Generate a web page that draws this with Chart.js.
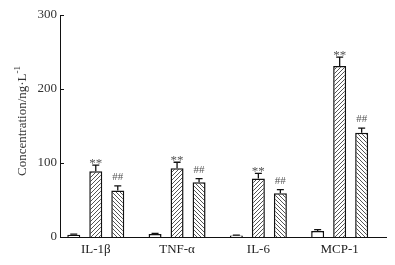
<!DOCTYPE html>
<html>
<head>
    <title>Cytokine concentration</title>
    <script src="https://cdn.jsdelivr.net/npm/chart.js@4.4.0/dist/chart.umd.min.js"></script>
    <style>
        html, body { margin: 0; padding: 0; background: #fff; }
        #wrap { width: 395px; height: 265px; }
    </style>
</head>
<body>
    <div id="wrap"><canvas id="chart" width="395" height="265"></canvas></div>

    <script>
        // data
        const categories = ['IL-1β', 'TNF-α', 'IL-6', 'MCP-1'];
        const controlVals = [3, 4, 2, 8];
        const controlErr = [1, 1, 0.5, 2];
        const modelVals = [89, 93, 79, 231];
        const modelErr = [8, 8, 7, 12];
        const treatVals = [63, 74, 59, 141];
        const treatErr = [6, 5, 5, 6];
        const marks = ['', '**', '##'];
        const yTicks = [0, 100, 200, 300];

        const serif = "'Liberation Serif', 'Times New Roman', serif";

        function hatch(dir) {
            const c = document.createElement('canvas');
            c.width = 4; c.height = 4;
            const g = c.getContext('2d');
            g.fillStyle = '#fff';
            g.fillRect(0, 0, 4, 4);
            g.strokeStyle = '#555';
            g.lineWidth = 1;
            g.beginPath();
            if (dir === '/') {
                g.moveTo(-1, 5); g.lineTo(5, -1);
                g.moveTo(-3, 3); g.lineTo(3, -3);
                g.moveTo(1, 7); g.lineTo(7, 1);
            } else {
                g.moveTo(-1, -1); g.lineTo(5, 5);
                g.moveTo(-3, 1); g.lineTo(3, 7);
                g.moveTo(1, -3); g.lineTo(7, 3);
            }
            g.stroke();
            return g.createPattern(c, 'repeat');
        }

        const toPoints = vals => vals.map((v, i) => ({ x: i, y: v }));
        const errs = [controlErr, modelErr, treatErr];

        // error bars and significance marks
        const errorPlugin = {
            id: 'errorBars',
            afterDatasetsDraw(chart) {
                const ctx = chart.ctx;
                const y = chart.scales.y;
                chart.data.datasets.forEach((ds, d) => {
                    const meta = chart.getDatasetMeta(d);
                    meta.data.forEach((bar, i) => {
                        const top = y.getPixelForValue(ds.data[i].y + errs[d][i]);
                        ctx.save();
                        ctx.strokeStyle = '#111';
                        ctx.lineWidth = 1.3;
                        ctx.beginPath();
                        ctx.moveTo(bar.x, bar.y);
                        ctx.lineTo(bar.x, top);
                        ctx.moveTo(bar.x - 3.5, top);
                        ctx.lineTo(bar.x + 3.5, top);
                        ctx.stroke();
                        if (marks[d]) {
                            ctx.fillStyle = '#555';
                            ctx.textAlign = 'center';
                            ctx.textBaseline = 'alphabetic';
                            if (marks[d] === '**') {
                                ctx.font = '13px ' + serif;
                                ctx.fillText(marks[d], bar.x, top + 2);
                            } else {
                                ctx.font = '11px ' + serif;
                                ctx.fillText(marks[d], bar.x, top - 6);
                            }
                        }
                        ctx.restore();
                    });
                });
            }
        };

        // inward tick marks and y title with superscript
        const axisPlugin = {
            id: 'axisExtras',
            afterDraw(chart) {
                const ctx = chart.ctx;
                const y = chart.scales.y;
                const left = chart.chartArea.left;
                ctx.save();
                ctx.strokeStyle = '#111';
                ctx.lineWidth = 1;
                ctx.beginPath();
                yTicks.forEach(v => {
                    const py = Math.round(y.getPixelForValue(v)) + 0.5;
                    ctx.moveTo(left, py);
                    ctx.lineTo(left + 4, py);
                });
                ctx.stroke();

                ctx.translate(23, 121);
                ctx.rotate(-Math.PI / 2);
                ctx.fillStyle = '#333';
                ctx.textBaseline = 'middle';
                const main = 'Concentration/ng·L';
                ctx.font = '13px ' + serif;
                const w1 = ctx.measureText(main).width;
                ctx.font = '9px ' + serif;
                const w2 = ctx.measureText('-1').width;
                const start = -(w1 + w2) / 2;
                ctx.font = '13px ' + serif;
                ctx.textAlign = 'left';
                ctx.fillText(main, start, 0);
                ctx.font = '9px ' + serif;
                ctx.fillText('-1', start + w1, -5);
                ctx.restore();
            }
        };

        const chart = new Chart(document.getElementById('chart'), {
            type: 'bar',
            data: {
                datasets: [
                    {
                        label: 'Control',
                        data: toPoints(controlVals),
                        backgroundColor: '#fff',
                        borderColor: '#111',
                        borderWidth: 1.5
                    },
                    {
                        label: 'Model',
                        data: toPoints(modelVals),
                        backgroundColor: hatch('/'),
                        borderColor: '#111',
                        borderWidth: 1.5
                    },
                    {
                        label: 'Treatment',
                        data: toPoints(treatVals),
                        backgroundColor: hatch('\\'),
                        borderColor: '#111',
                        borderWidth: 1.5
                    }
                ]
            },
            options: {
                responsive: false,
                animation: false,
                layout: { padding: { top: 15, right: 9, left: 0, bottom: 0 } },
                categoryPercentage: 0.812,
                barPercentage: 0.59,
                plugins: {
                    legend: { display: false },
                    tooltip: { enabled: false }
                },
                scales: {
                    x: {
                        type: 'linear',
                        min: -0.44,
                        max: 3.57,
                        offset: false,
                        afterBuildTicks: s => { s.ticks = categories.map((c, i) => ({ value: i })); },
                        afterFit: s => { s.height = 28; },
                        grid: { display: false, drawTicks: false, offset: false },
                        border: { display: true, color: '#111', width: 1 },
                        ticks: {
                            autoSkip: false,
                            maxRotation: 0,
                            padding: 5,
                            color: '#222',
                            font: { family: serif, size: 13 },
                            callback: v => categories[v] ?? ''
                        }
                    },
                    y: {
                        min: 0,
                        max: 300,
                        afterBuildTicks: s => { s.ticks = yTicks.map(v => ({ value: v })); },
                        afterFit: s => { s.width = 60; },
                        grid: { display: false, drawTicks: false },
                        border: { display: true, color: '#111', width: 1 },
                        ticks: {
                            padding: 3,
                            color: '#333',
                            font: { family: serif, size: 13 }
                        }
                    }
                }
            },
            plugins: [errorPlugin, axisPlugin]
        });
    </script>
</body>
</html>
